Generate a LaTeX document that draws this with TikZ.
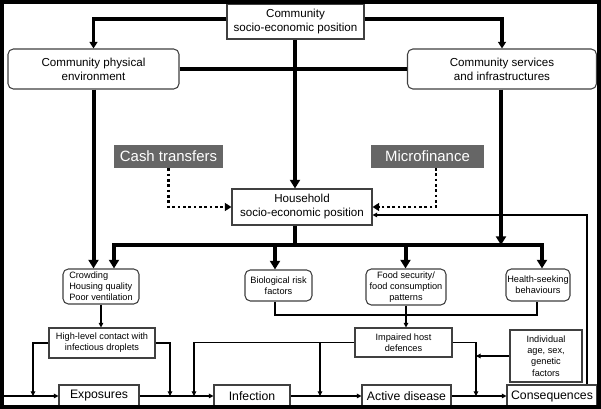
\documentclass[tikz,border=0pt]{standalone}
\usepackage{fontspec}
\setmainfont{Liberation Sans}
\usetikzlibrary{arrows.meta}
\newcommand\pxl{0.75pt}
\tikzset{
  box/.style={draw=black!75, line width=0.8pt, fill=white, inner sep=0pt, align=center},
  rbox/.style={box, rounded corners=4pt},
  big/.style={font=\fontsize{8.7pt}{10.5pt}\selectfont},
  small/.style={font=\fontsize{6.9pt}{8.4pt}\selectfont},
  rowf/.style={font=\fontsize{9.2pt}{11pt}\selectfont},
  gbox/.style={fill=black!60, text=white, inner sep=0pt, font=\fontsize{11.2pt}{13pt}\selectfont},
  thickl/.style={line width=3pt},
  thicka/.style={thickl, -{Triangle[width=7.5pt,length=6.5pt]}},
  topa/.style={line width=2.4pt, -{Triangle[width=6pt,length=5pt]}},
  thinl/.style={line width=0.8pt},
  thina/.style={thinl, -{Triangle[width=3.5pt,length=3.5pt]}},
  dota/.style={line width=2pt, dash pattern=on 2pt off 2pt, -{Triangle[width=6pt,length=5pt]}},
}
\begin{document}
\begin{tikzpicture}[x=0.75pt,y=-0.75pt]
\useasboundingbox (0,0) rectangle (601,409);
\fill[white] (0,0) rectangle (601,409);

% nodes
\node[box, big, minimum width=137*\pxl, minimum height=35*\pxl] (csep) at (295.5,21.5) {Community\\socio-economic position};
\node[rbox, big, minimum width=171*\pxl, minimum height=40*\pxl] (cpe) at (93.5,69) {Community physical\\environment};
\node[rbox, big, minimum width=189*\pxl, minimum height=40*\pxl] (csi) at (502,69) {Community services\\and infrastructures};
\node[gbox, minimum width=109*\pxl, minimum height=23*\pxl] (cash) at (168.5,156.5) {Cash transfers};
\node[gbox, minimum width=113*\pxl, minimum height=23*\pxl] (micro) at (427.5,156.5) {Microfinance};
\node[box, big, minimum width=140*\pxl, minimum height=36*\pxl] (hh) at (302,207) {Household\\socio-economic position};
\node[rbox, small, align=left, minimum width=76*\pxl, minimum height=35*\pxl] (crowd) at (101,286.5) {Crowding\\Housing quality\\Poor ventilation};
\node[rbox, small, minimum width=67*\pxl, minimum height=31*\pxl] (bio) at (278.5,285.5) {Biological risk\\factors};
\node[rbox, small, minimum width=80*\pxl, minimum height=36*\pxl] (food) at (406,287) {Food security/\\food consumption\\patterns};
\node[rbox, small, minimum width=64*\pxl, minimum height=32*\pxl] (health) at (538,285) {Health-seeking\\behaviours};
\node[box, small, minimum width=106*\pxl, minimum height=30*\pxl] (hlc) at (102,343) {High-level contact with\\infectious droplets};
\node[box, small, minimum width=97*\pxl, minimum height=29*\pxl] (imp) at (403.5,342.5) {Impaired host\\defences};
\node[box, small, minimum width=72*\pxl, minimum height=52*\pxl] (ind) at (546,356) {Individual\\age, sex,\\genetic\\factors};
\node[box, rowf, minimum width=80*\pxl, minimum height=22*\pxl] (exp) at (99,396) {Exposures};
\node[box, rowf, minimum width=76*\pxl, minimum height=22*\pxl] (inf) at (252,396) {Infection};
\node[box, rowf, minimum width=89*\pxl, minimum height=22*\pxl] (act) at (406.5,396) {Active disease};
\node[box, rowf, minimum width=90*\pxl, minimum height=22*\pxl] (cons) at (552,396) {Consequences};

% coordinates
\coordinate (busL) at (114,245);
\coordinate (busR) at (542,245);
\coordinate (busM) at (501,245);
\coordinate (busH) at (295,245);
\coordinate (bB) at (275,245);
\coordinate (bF) at (405.5,245);
\coordinate (lb1) at (275,315);
\coordinate (lb2) at (537,315);
\coordinate (j1) at (33,396);
\coordinate (j2) at (170,396);
\coordinate (j3) at (194,396);
\coordinate (j4) at (320,396);
\coordinate (j5) at (476,396);
\coordinate (start) at (4,396);
\coordinate (fb) at (587,215);
\coordinate (md) at (436,168);

% top connectors
\draw[topa] ([yshift=1.9pt]csep.west) -| (cpe.north);
\draw[topa] ([yshift=1.9pt]csep.east) -| (csi.north);
\draw[thickl] (cpe.east) -- (csi.west);
\draw[thicka] (csep.south -| busH) -- (busH |- hh.north);
\draw[thicka] (cpe.south) -- (cpe.south |- crowd.north);
\draw[thicka] (busM |- csi.south) -- (busM);

% household bus
\draw[thickl] (busH |- hh.south) -- (busH);
\draw[thickl, line cap=rect] (busL) -- (busR);
\draw[thicka] (busL) -- (busL |- crowd.north);
\draw[thicka] (bB) -- (bB |- bio.north);
\draw[thicka] (bF) -- (bF |- food.north);
\draw[thicka] (busR) -- (busR |- health.north);

% dotted interventions
\draw[dota] (cash.south) |- (hh.west);
\draw[dota] (md) |- (hh.east);

% lower thin connectors
\draw[thinl] (lb1 |- bio.south) -- (lb1) -- (lb2) -- (lb2 |- health.south);
\draw[thina] (food.south) -- (food.south |- imp.north);
\draw[thina] (crowd.south) -- (crowd.south |- hlc.north);
\draw[thina] (hlc.west) -| (j1);
\draw[thina] (hlc.east) -| (j2);
\draw[thina] (imp.west) -| (j3);
\draw[thina] (j4 |- imp.west) -- (j4);
\draw[thina] (imp.east) -| (j5);
\draw[thina] (ind.west) -- (ind.west -| j5);

% bottom row
\draw[thina] (start) -- (exp.west);
\draw[thina] (exp.east) -- (inf.west);
\draw[thina] (inf.east) -- (act.west);
\draw[thina] (act.east) -- (cons.west);

% feedback
\draw[thina] (fb |- cons.north) -- (fb) -- (fb -| hh.east);

% frame
\draw[line width=3pt] (2,2) rectangle (599,407);
\end{tikzpicture}
\end{document}
